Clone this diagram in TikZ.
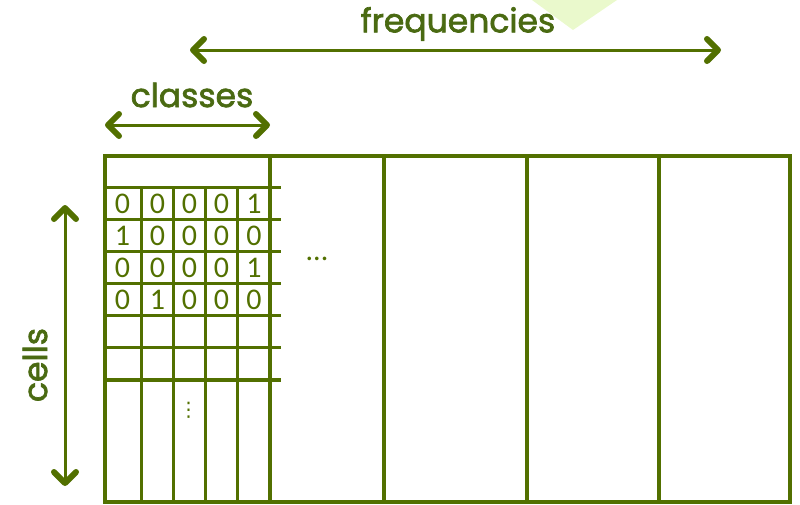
\documentclass[tikz,border=0pt]{standalone}
\usepackage{fontspec}
\setmainfont{Carlito}
\newfontfamily\handfont[FakeBold=2]{Poppins}
\newfontfamily\symfont{DejaVu Sans}
\usetikzlibrary{arrows.meta}
\definecolor{gridgreen}{HTML}{527000}
\definecolor{labelgreen}{HTML}{4A6A12}
\definecolor{paleLime}{HTML}{EAF9CC}
\begin{document}
\begin{tikzpicture}[x=1pt,y=-1pt,
  gridline/.style={draw=gridgreen,line width=3.6pt},
  dimarrow/.style={draw=gridgreen,line width=3pt,
    {Straight Barb[length=11pt,width=22pt,line width=6pt,round]}-{Straight Barb[length=11pt,width=22pt,line width=6pt,round]}},
  handlabel/.style={text=labelgreen,font=\handfont\fontsize{33}{33}\selectfont,inner sep=0pt},
  digit/.style={text=gridgreen,font=\fontsize{30}{30}\selectfont,inner sep=0pt}]
\useasboundingbox (0,0) rectangle (800,504);
% pale shape at top
\fill[paleLime] (532,0) -- (617,0) -- (573,30) -- cycle;
% outer frame and frequency columns
\draw[gridline] (105,156) rectangle (790,502);
\foreach \x in {270,384,527,659} \draw[gridline] (\x,156) -- (\x,502);
% class rows
\foreach \y in {187.5,219.5,251.5,283.5,315.5,347.5,380} \draw[gridline] (105,\y) -- (281,\y);
\foreach \x in {141.5,173.5,205.5,237.5} \draw[gridline] (\x,187.5) -- (\x,502);
% digits
\foreach \r/\row in {0/{0,0,0,0,1},1/{1,0,0,0,0},2/{0,0,0,0,1},3/{0,1,0,0,0}}{
  \foreach \d [count=\c from 0] in \row {
    \pgfmathsetmacro{\cx}{{122.5,157.5,189.5,221.5,254}[\c]}
    \node[digit] (d\r\c) at (\cx,{204+32*\r}) {\d};
  }
}
\node[text=gridgreen,font=\fontsize{30}{30}\selectfont,inner sep=0pt] (hdots) at (317,259) {...};
\node[text=gridgreen,font=\symfont\fontsize{20}{20}\selectfont,inner sep=0pt] (vdots) at (188.5,410.5) {⋮};
% dimension arrows
\coordinate (fL) at (190,50); \coordinate (fR) at (721,50);
\coordinate (cL) at (105,125); \coordinate (cR) at (270,125);
\coordinate (eT) at (65,205); \coordinate (eB) at (65,486);
\draw[dimarrow] (fL) -- (fR);
\draw[dimarrow] (cL) -- (cR);
\draw[dimarrow] (eT) -- (eB);
\node[handlabel] (freq) at (458,24) {frequencies};
\node[handlabel] (classes) at (192,95) {classes};
\node[handlabel,rotate=90] (cells) at (35,365) {cells};
\end{tikzpicture}
\end{document}
